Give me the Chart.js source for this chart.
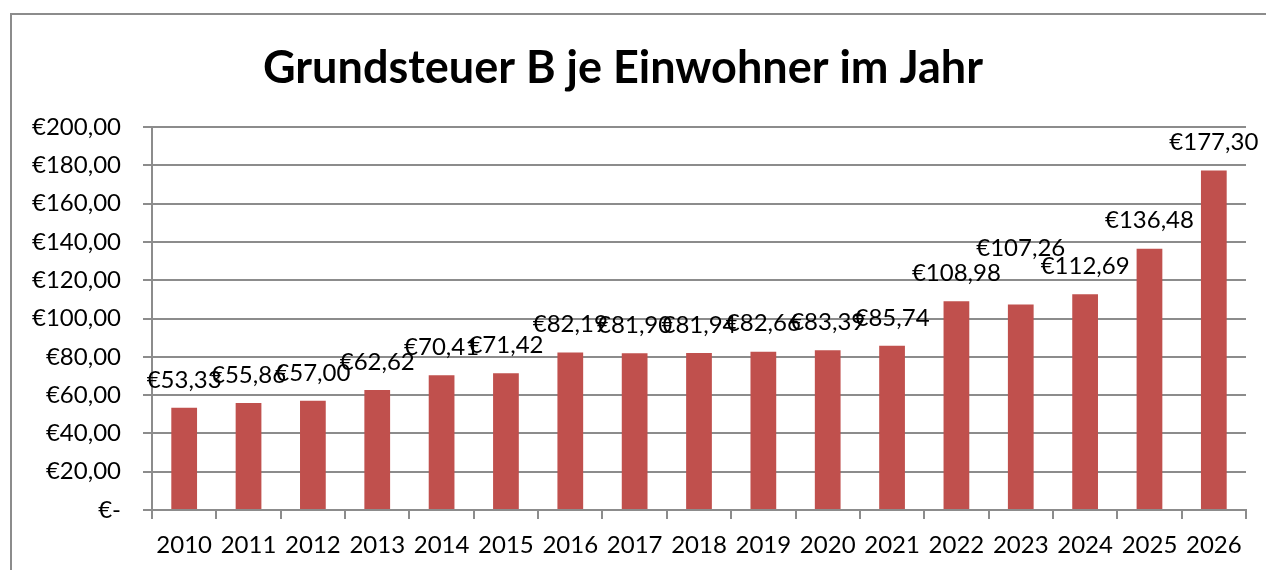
<!DOCTYPE html>
<html>
<head>
<meta charset="utf-8">
<script src="https://cdn.jsdelivr.net/npm/chart.js@4"></script>
<style>
    html, body { margin: 0; padding: 0; background: #fff; overflow: hidden; }
    #frame {
        position: absolute; left: 10px; top: 13px; width: 1300px; height: 600px;
        border-left: 2px solid #8c8c8c; border-top: 2px solid #8c8c8c;
    }
    #wrap { position: absolute; left: 0; top: 0; width: 1266px; height: 570px; }
</style>
</head>
<body>
<div id="frame"></div>
<div id="wrap"><canvas id="grundsteuerChart" width="1266" height="570"></canvas></div>
<script>
    // Jahre und Grundsteuer B je Einwohner (Euro)
    const years = ['2010', '2011', '2012', '2013', '2014', '2015', '2016', '2017', '2018',
                   '2019', '2020', '2021', '2022', '2023', '2024', '2025', '2026'];
    const values = [53.33, 55.86, 57.00, 62.62, 70.41, 71.42, 82.19, 81.90, 81.94,
                    82.66, 83.39, 85.74, 108.98, 107.26, 112.69, 136.48, 177.30];
    const yTicks = [0, 20, 40, 60, 80, 100, 120, 140, 160, 180, 200];

    const FONT = 'Lato, "Open Sans", sans-serif';

    function euro(v) {
        if (v === 0) return '€-';
        return '€' + v.toFixed(2).replace('.', ',');
    }

    // draws value labels above each bar
    const barLabels = {
        id: 'barLabels',
        afterDatasetsDraw(chart, args, opts) {
            const ctx = chart.ctx;
            const meta = chart.getDatasetMeta(0);
            ctx.save();
            ctx.font = '24px ' + FONT;
            ctx.fillStyle = '#000';
            ctx.textAlign = 'center';
            ctx.textBaseline = 'middle';
            meta.data.forEach(function(bar, i) {
                const shift = (opts.shift && opts.shift[i]) || 0;
                ctx.fillText(euro(values[i]), bar.x, bar.y - 28 + shift);
            });
            ctx.restore();
        }
    };

    const ctx = document.getElementById('grundsteuerChart').getContext('2d');
    new Chart(ctx, {
        type: 'bar',
        data: {
            labels: years,
            datasets: [{
                data: values,
                backgroundColor: '#C0504D',
                barPercentage: 0.4,
                categoryPercentage: 1.0
            }]
        },
        plugins: [barLabels],
        options: {
            responsive: false,
            animation: false,
            layout: { padding: { left: 0, right: 20, top: 0, bottom: 0 } },
            plugins: {
                legend: { display: false },
                tooltip: { enabled: false },
                title: {
                    display: true,
                    text: 'Grundsteuer B je Einwohner im Jahr',
                    color: '#000',
                    font: { family: FONT, size: 45, weight: 'bold' },
                    padding: { top: 41, bottom: 32 }
                },
                barLabels: { shift: { 13: -28 } }
            },
            scales: {
                x: {
                    afterFit: function(scale) {
                        scale.height = 60;
                    },
                    grid: {
                        offset: true,
                        drawOnChartArea: false,
                        drawTicks: true,
                        tickLength: 9,
                        color: '#8c8c8c',
                        lineWidth: 2
                    },
                    border: { color: '#8c8c8c', width: 2 },
                    ticks: {
                        color: '#000',
                        font: { family: FONT, size: 24 },
                        padding: 12,
                        maxRotation: 0,
                        autoSkip: false
                    }
                },
                y: {
                    min: 0,
                    max: 200,
                    afterBuildTicks: function(scale) {
                        scale.ticks = yTicks.map(v => ({ value: v }));
                    },
                    afterFit: function(scale) {
                        scale.width = 152;
                    },
                    grid: {
                        color: '#8c8c8c',
                        lineWidth: 2,
                        tickLength: 9
                    },
                    border: { color: '#8c8c8c', width: 2 },
                    ticks: {
                        color: '#000',
                        font: { family: FONT, size: 24 },
                        padding: 22,
                        callback: function(value) {
                            return euro(value);
                        }
                    }
                }
            }
        }
    });
</script>
</body>
</html>
